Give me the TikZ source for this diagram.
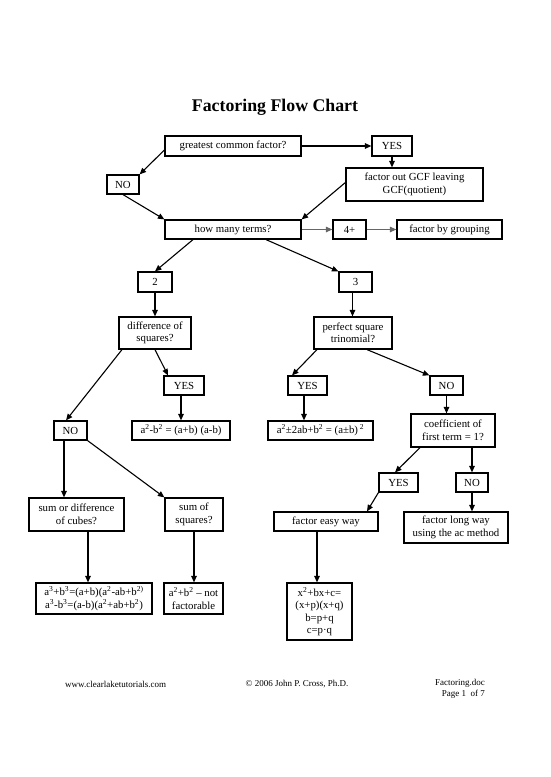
\documentclass[tikz,border=0pt]{standalone}
\usepackage{fontspec}
\setmainfont{Liberation Serif}
\usetikzlibrary{arrows.meta}
\begin{document}
\begin{tikzpicture}[x=1pt,y=-1pt,
  box/.style={draw, line width=1.2pt, inner sep=0pt, align=center,
    font=\fontsize{10.8}{12.5}\selectfont},
  arr/.style={line width=1.1pt, -{Triangle[length=6.5pt,width=5.5pt]}},
  garr/.style={arr, draw=black!60},
  foot/.style={inner sep=0pt, font=\fontsize{9}{10.5}\selectfont}]
\useasboundingbox (0,0) rectangle (550,777);
\node[font=\bfseries\fontsize{17.8}{20}\selectfont] (title) at (275,107) {Factoring Flow Chart};
% boxes
\node[box, minimum width=136, minimum height=20] (gcf) at (233,146) {greatest common factor?};
\node[box, minimum width=40, minimum height=20] (yes1) at (392,146) {YES};
\node[box, minimum width=32, minimum height=19] (no1) at (123,184.5) {NO};
\node[box, minimum width=137, minimum height=33] (gcfout) at (414.5,184.5) {factor out GCF leaving\\GCF(quotient)};
\node[box, minimum width=136, minimum height=19] (terms) at (233,229.5) {how many terms?};
\node[box, minimum width=33, minimum height=19] (four) at (349.5,229.5) {4+};
\node[box, minimum width=105, minimum height=19] (group) at (449.5,229.5) {factor by grouping};
\node[box, minimum width=34, minimum height=20] (two) at (155,282) {2};
\node[box, minimum width=33, minimum height=20] (three) at (355.5,282) {3};
\node[box, minimum width=72, minimum height=32] (diff) at (155,333) {difference of\\squares?};
\node[box, minimum width=78, minimum height=32] (pst) at (353,333) {perfect square\\trinomial?};
\node[box, minimum width=40, minimum height=19] (yes2) at (184,385.5) {YES};
\node[box, minimum width=39, minimum height=19] (yes3) at (307.5,385.5) {YES};
\node[box, minimum width=33, minimum height=19] (no3) at (446.5,385.5) {NO};
\node[box, minimum width=33, minimum height=19] (no2) at (70.5,430.5) {NO};
\node[box, minimum width=98, minimum height=19] (dos) at (181,430.5) {a\textsuperscript{2}-b\textsuperscript{2} = (a+b) (a-b)};
\node[box, minimum width=105, minimum height=19] (pstf) at (320.5,430.5) {a\textsuperscript{2}±2ab+b\textsuperscript{2} = (a±b)\,\textsuperscript{2}};
\node[box, minimum width=84, minimum height=33] (coef) at (453,430.5) {coefficient of\\first term = 1?};
\node[box, minimum width=39, minimum height=19] (yes4) at (398.5,482.5) {YES};
\node[box, minimum width=32, minimum height=19] (no4) at (472,482.5) {NO};
\node[box, minimum width=95, minimum height=33] (cubes) at (76.5,514.5) {sum or difference\\of cubes?};
\node[box, minimum width=58, minimum height=33] (sos) at (194,514.5) {sum of\\squares?};
\node[box, minimum width=104, minimum height=19] (easy) at (326,521.5) {factor easy way};
\node[box, minimum width=104, minimum height=31] (long) at (456,527.5) {factor long way\\using the ac method};
\node[box, minimum width=116, minimum height=31] (cubesf) at (94,598.5) {a\textsuperscript{3}+b\textsuperscript{3}=(a+b)(a\textsuperscript{2}-ab+b\textsuperscript{2)}\\a\textsuperscript{3}-b\textsuperscript{3}=(a-b)(a\textsuperscript{2}+ab+b\textsuperscript{2})};
\node[box, minimum width=59, minimum height=31] (sosf) at (193.5,598.5) {a\textsuperscript{2}+b\textsuperscript{2} – not\\factorable};
\node[box, minimum width=65, minimum height=57] (xbox) at (319.5,611.5) {x\textsuperscript{2}+bx+c=\\(x+p)(x+q)\\b=p+q\\c=p·q};
% connectors
\draw[arr] ([yshift=-4]gcf.west) -- (no1.north east);
\draw[arr] (no1.south) -- (terms.north west);
\draw[arr] (gcf.east) -- (yes1.west);
\draw[arr] (yes1.south) -- (yes1.south |- gcfout.north);
\draw[arr] ([yshift=2]gcfout.west) -- (terms.north east);
\draw[garr] (terms.east) -- (four.west);
\draw[garr] (four.east) -- (group.west);
\draw[arr] ([xshift=-40]terms.south) -- (two.north);
\draw[arr] ([xshift=33]terms.south) -- (three.north west);
\draw[arr] (two.south) -- (diff.north);
\draw[arr] ([xshift=-3]three.south) -- ([xshift=-0.5]pst.north);
\draw[arr] (diff.south) -- ([xshift=-16]yes2.north);
\draw[arr] ([xshift=-33]diff.south) -- ([xshift=-4.5]no2.north);
\draw[arr] ([xshift=-3]yes2.south) -- (dos.north);
\draw[arr] ([xshift=-36]pst.south) -- ([xshift=-15.5]yes3.north);
\draw[arr] ([xshift=14]pst.south) -- (no3.north west);
\draw[arr] ([xshift=-3.5]yes3.south) -- ([xshift=-16.5]pstf.north);
\draw[arr] (no3.south) -- (no3.south |- coef.north);
\draw[arr] ([xshift=-33]coef.south) -- ([xshift=-3.5]yes4.north);
\draw[arr] (no4.north |- coef.south) -- (no4.north);
\draw[arr] ([xshift=-6.5]no2.south) -- ([xshift=-12.5]cubes.north);
\draw[arr] (no2.south east) -- (sos.north west);
\draw[arr] ([xshift=11.5]cubes.south) -- ([xshift=-6]cubesf.north);
\draw[arr] (sos.south) -- (sos.south |- sosf.north);
\draw[arr] (yes4.south west) -- ([xshift=41]easy.north);
\draw[arr] (no4.south) -- (no4.south |- long.north);
\draw[arr] ([xshift=-9]easy.south) -- ([xshift=-2.5]xbox.north);
% footer
\node[foot, anchor=west] (web) at (65,684) {www.clearlaketutorials.com};
\node[foot] (copy) at (297,684) {© 2006 John P. Cross, Ph.D.};
\node[foot, anchor=east, align=right] (page) at (485,689) {Factoring.doc\\Page 1 \ of 7};
\end{tikzpicture}
\end{document}
